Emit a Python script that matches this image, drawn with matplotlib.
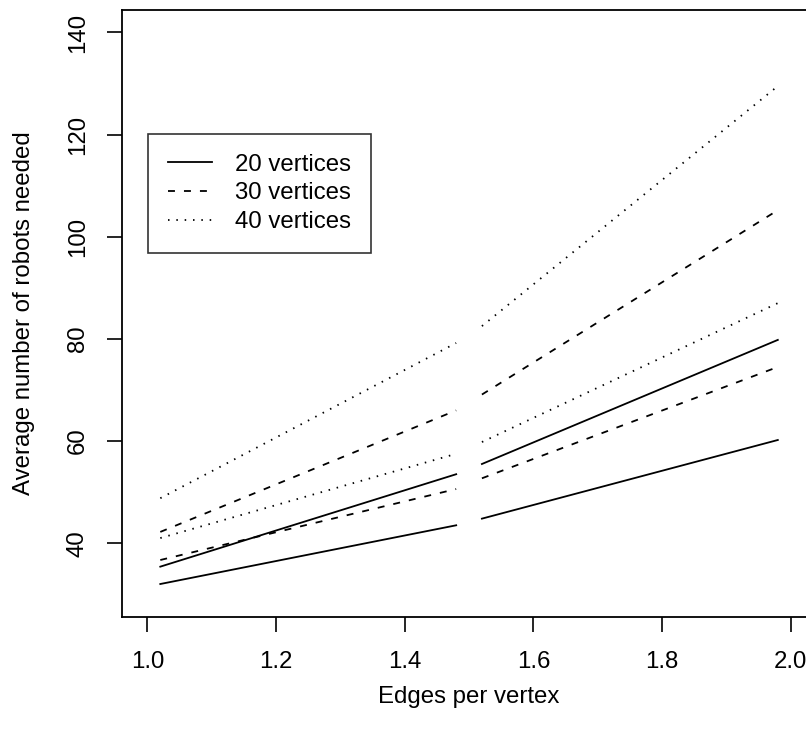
import matplotlib
matplotlib.use("Agg")
import matplotlib.pyplot as plt

# data
x_left = [1.02, 1.48]
x_right = [1.52, 1.98]
series_labels = ["20 vertices", "30 vertices", "40 vertices"]
# each series: lower-left, upper-left, lower-right, upper-right segment end values
v20_left_low = [32.0, 43.5]
v20_left_high = [35.4, 53.5]
v20_right_low = [44.8, 60.2]
v20_right_high = [55.5, 79.8]
v30_left_low = [36.7, 50.6]
v30_left_high = [42.2, 66.0]
v30_right_low = [52.7, 74.5]
v30_right_high = [69.1, 105.2]
v40_left_low = [41.0, 57.5]
v40_left_high = [48.8, 79.2]
v40_right_low = [59.8, 87.0]
v40_right_high = [82.5, 129.5]
x_ticks = [1.0, 1.2, 1.4, 1.6, 1.8, 2.0]
y_ticks = [40, 60, 80, 100, 120, 140]

plt.rcParams['font.family'] = ['Liberation Sans', 'DejaVu Sans']
plt.rcParams['lines.scale_dashes'] = False
FS = 17.3

W, H = 806, 736
fig = plt.figure(figsize=(W / 100, H / 100), dpi=100)
left, right, bottom, top = 121.7, 816.4, 616.7, 10.0
ax = fig.add_axes([left / W, (H - bottom) / H, (right - left) / W, (bottom - top) / H])

styles = ['-', (0, (5.0, 6.5)), (0, (1.1, 4.9))]
groups = [
    (v20_left_low, v20_left_high, v20_right_low, v20_right_high),
    (v30_left_low, v30_left_high, v30_right_low, v30_right_high),
    (v40_left_low, v40_left_high, v40_right_low, v40_right_high),
]
lw = 1.3
handles = []
for lab, ls, g in zip(series_labels, styles, groups):
    ll, lh, rl, rh = g
    h, = ax.plot(x_left, ll, color='black', lw=lw, linestyle=ls, dash_capstyle='butt', label=lab)
    ax.plot(x_left, lh, color='black', lw=lw, linestyle=ls, dash_capstyle='butt')
    ax.plot(x_right, rl, color='black', lw=lw, linestyle=ls, dash_capstyle='butt')
    ax.plot(x_right, rh, color='black', lw=lw, linestyle=ls, dash_capstyle='butt')
    handles.append(h)

ax.set_xlim(0.96, 2.04)
ax.set_ylim(25.6, 144.4)
ax.set_xticks(x_ticks)
ax.set_xticklabels([f"{t:.1f}" for t in x_ticks])
ax.set_yticks(y_ticks)
ax.set_yticklabels([str(t) for t in y_ticks], rotation=90, va='center')
ax.tick_params(axis='both', length=10.8, width=1.2, labelsize=FS, direction='out')
ax.tick_params(axis='x', pad=14)
ax.tick_params(axis='y', pad=13)
for s in ax.spines.values():
    s.set_linewidth(1.3)

ax.set_xlabel("Edges per vertex", fontsize=FS, labelpad=9)
ax.set_ylabel("Average number of robots needed", fontsize=FS, labelpad=23)

leg = ax.legend(handles=handles, loc='upper left',
                bbox_to_anchor=(148 / W, (H - 134) / H), bbox_transform=fig.transFigure,
                fontsize=FS, frameon=True, fancybox=False, edgecolor='black',
                handlelength=1.85, handletextpad=0.95, labelspacing=0.28,
                borderpad=0.82, borderaxespad=0)
leg.get_frame().set_linewidth(1.2)

fig.savefig("out.png", dpi=100)
